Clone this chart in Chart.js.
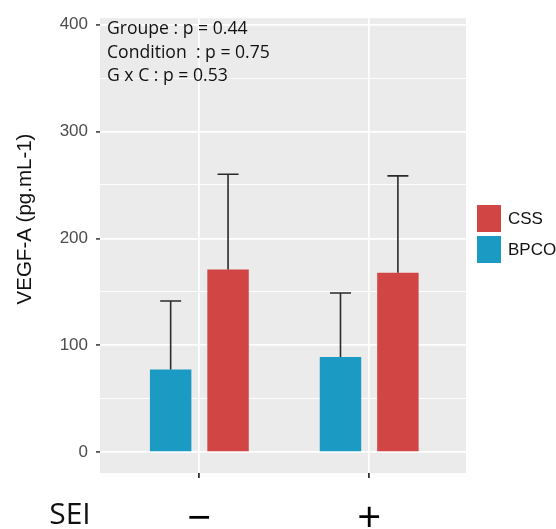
<!DOCTYPE html>
<html><head><meta charset="utf-8">
<script src="https://cdn.jsdelivr.net/npm/chart.js@4"></script>
<style>html,body{margin:0;padding:0;background:#fff}</style>
</head><body>
<canvas id="c" width="556" height="529"></canvas>
<script>
const categories = ['\u2212', '+'];
const groupTitle = 'SEI';
const seriesNames = ['BPCO', 'CSS'];
const bpcoMeans = [77.5, 89];
const bpcoSD = [64, 60];
const cssMeans = [171, 168];
const cssSD = [89, 90.5];
const yMajorTicks = [0, 100, 200, 300, 400];
const yMinorTicks = [50, 150, 250, 350];
const statLines = ['Groupe : p = 0.44', 'Condition  : p = 0.75', 'G x C : p = 0.53'];
const yTitle = 'VEGF-A (pg.mL-1)';
const seriesColors = ['#1B9AC3', '#D14545'];

const toPoints = arr => arr.map((v, i) => ({x: i + 1, y: v}));

const panelBg = {
  id: 'panelBg',
  beforeDraw(chart) {
    const {ctx, chartArea: a} = chart;
    ctx.save(); ctx.fillStyle = '#EBEBEB';
    ctx.fillRect(a.left, a.top, a.right - a.left, a.bottom - a.top);
    ctx.restore();
  }
};

const errorBars = {
  id: 'errorBars',
  afterDatasetsDraw(chart) {
    const ctx = chart.ctx, ys = chart.scales.y;
    chart.data.datasets.forEach((ds, di) => {
      const meta = chart.getDatasetMeta(di);
      meta.data.forEach((bar, i) => {
        const top = ys.getPixelForValue(ds.data[i].y + ds.sd[i]);
        ctx.save(); ctx.strokeStyle = '#2b2b2b'; ctx.lineWidth = 1.6;
        ctx.beginPath();
        ctx.moveTo(bar.x, bar.y); ctx.lineTo(bar.x, top);
        ctx.moveTo(bar.x - 10.5, top); ctx.lineTo(bar.x + 10.5, top);
        ctx.stroke(); ctx.restore();
      });
    });
  }
};

const extraText = {
  id: 'extraText',
  afterDraw(chart) {
    const ctx = chart.ctx, a = chart.chartArea;
    ctx.save();
    ctx.fillStyle = '#111';
    ctx.font = '17.6px "Open Sans"';
    ctx.textAlign = 'left'; ctx.textBaseline = 'middle';
    statLines.forEach((t, i) => ctx.fillText(t, a.left + 7, 29 + i * 23.5));
    ctx.font = '30px "Open Sans"';
    ctx.textAlign = 'center';
    ctx.fillText(groupTitle, 70, 515);
    // y axis title
    ctx.save();
    ctx.translate(25, 219); ctx.rotate(-Math.PI / 2);
    ctx.font = '20.5px "Liberation Sans"';
    ctx.fillStyle = '#111';
    ctx.fillText(yTitle, 0, 0);
    ctx.restore();
    // legend (reverse order)
    const items = chart.data.datasets.map(d => ({label: d.label, color: d.backgroundColor})).reverse();
    ctx.font = '17px "Liberation Sans"';
    ctx.textAlign = 'left';
    items.forEach((it, i) => {
      const y0 = 205 + i * 31;
      ctx.fillStyle = it.color;
      ctx.fillRect(477, y0, 24, 27);
      ctx.fillStyle = '#111';
      ctx.fillText(it.label, 508, y0 + 14);
    });
    ctx.restore();
  }
};

new Chart(document.getElementById('c'), {
  type: 'bar',
  data: {
    datasets: [
      {label: seriesNames[0], data: toPoints(bpcoMeans), sd: bpcoSD, backgroundColor: seriesColors[0]},
      {label: seriesNames[1], data: toPoints(cssMeans), sd: cssSD, backgroundColor: seriesColors[1]}
    ]
  },
  options: {
    responsive: false, animation: false, devicePixelRatio: 1,
    categoryPercentage: 0.676, barPercentage: 0.722,
    layout: {padding: {top: 9, right: 90, left: 0, bottom: 0}},
    plugins: {legend: {display: false}, tooltip: {enabled: false}},
    scales: {
      x: {
        type: 'linear', min: 0.415, max: 2.57, offset: false,
        afterBuildTicks: s => { s.ticks = categories.map((c, i) => ({value: i + 1})); },
        afterFit: s => { s.height = 56; },
        border: {display: false},
        grid: {offset: false, color: '#FFFFFF', lineWidth: 1.8, tickColor: '#333', tickLength: 5},
        ticks: {autoSkip: false, maxRotation: 0, padding: 17, color: '#000',
          font: {family: 'Open Sans', size: 42},
          callback: v => categories[Math.round(v) - 1]}
      },
      y: {
        min: -19.4, max: 406,
        afterBuildTicks: s => { s.ticks = [...yMajorTicks, ...yMinorTicks].sort((a, b) => a - b).map(v => ({value: v})); },
        afterFit: s => { s.width = 100; },
        border: {display: false},
        grid: {color: '#FFFFFF',
          lineWidth: c => yMajorTicks.includes(c.tick && c.tick.value) ? 1.8 : 0.9,
          tickColor: c => yMajorTicks.includes(c.tick && c.tick.value) ? '#555' : 'rgba(0,0,0,0)',
          tickLength: 4},
        ticks: {autoSkip: false, padding: 8, color: '#4D4D4D',
          font: {family: 'Liberation Sans', size: 17},
          callback: v => yMajorTicks.includes(v) ? String(v) : ''},
        title: {display: false}
      }
    }
  },
  plugins: [panelBg, errorBars, extraText]
});
</script>
</body></html>
